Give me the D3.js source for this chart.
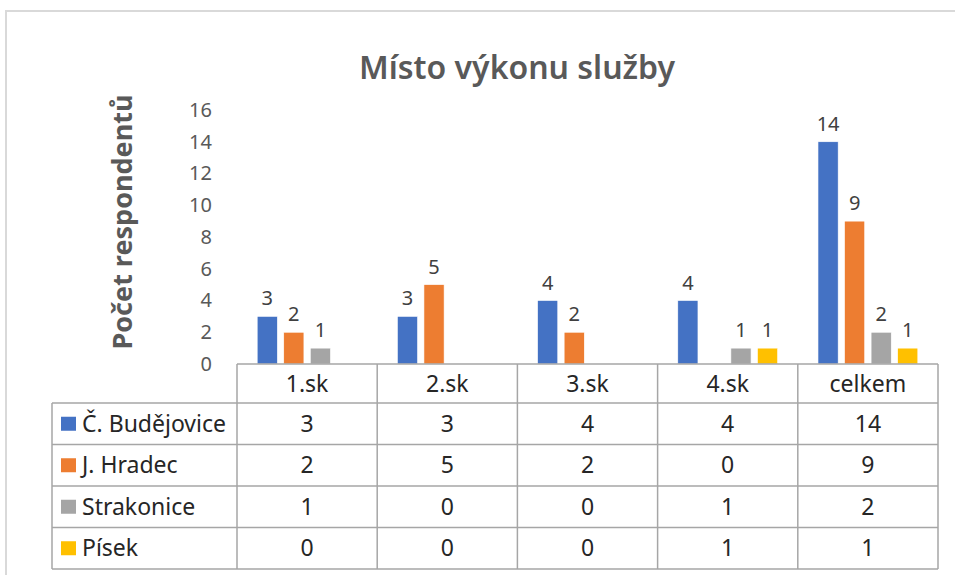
<!DOCTYPE html>
<html>
<head>
<meta charset="utf-8">
<script src="https://cdn.jsdelivr.net/npm/d3@7"></script>
<style>
  body { margin: 0; background: #fff; }
  svg text { font-family: "Noto Sans", "Open Sans", sans-serif; }
</style>
</head>
<body>
<div id="chart"></div>
<script>
// Data
const categories = ["1.sk", "2.sk", "3.sk", "4.sk", "celkem"];
const seriesNames = ["Č. Budějovice", "J. Hradec", "Strakonice", "Písek"];
const budejovice = [3, 3, 4, 4, 14];
const hradec = [2, 5, 2, 0, 9];
const strakonice = [1, 0, 0, 1, 2];
const pisek = [0, 0, 0, 1, 1];
const yTicks = [0, 2, 4, 6, 8, 10, 12, 14, 16];
const colors = ["#4472C4", "#ED7D31", "#A5A5A5", "#FFC000"];

const seriesValues = [budejovice, hradec, strakonice, pisek];
const series = seriesNames.map((name, i) => ({ name, values: seriesValues[i], color: colors[i] }));

const W = 955, H = 575;
const svg = d3.select("#chart").append("svg")
    .attr("width", W)
    .attr("height", H);

// outer chart frame
svg.append("rect")
    .attr("x", 6).attr("y", 11)
    .attr("width", W + 10).attr("height", H + 10)
    .attr("fill", "none")
    .attr("stroke", "#d9d9d9")
    .attr("stroke-width", 2);

// Scales
const x0 = d3.scaleBand().domain(categories).range([237, 938]);
const x1 = d3.scaleBand().domain(seriesNames).range([17, x0.bandwidth() - 17])
    .paddingInner(0.24).paddingOuter(0.12);
const y = d3.scaleLinear().domain([0, 16]).range([364, 110]);

// Title
svg.append("text")
    .attr("x", 517).attr("y", 79)
    .attr("text-anchor", "middle")
    .style("font-size", "32px")
    .style("font-weight", "600")
    .style("fill", "#595959")
    .text("Místo výkonu služby");

// Y axis title
svg.append("text")
    .attr("transform", "translate(132,222) rotate(-90)")
    .attr("text-anchor", "middle")
    .style("font-size", "27px")
    .style("font-weight", "bold")
    .style("fill", "#595959")
    .text("Počet respondentů");

// Y axis (labels only)
const yAxis = svg.append("g")
    .attr("transform", "translate(212,0)")
    .call(d3.axisLeft(y).tickValues(yTicks).tickSize(0).tickPadding(0));
yAxis.select(".domain").remove();
yAxis.selectAll("text")
    .style("font-size", "20px")
    .style("fill", "#595959")
    .style("font-family", "Noto Sans, sans-serif");

// Bars
const groups = svg.selectAll(".cat")
    .data(categories)
    .enter().append("g")
    .attr("class", "cat")
    .attr("transform", d => `translate(${x0(d)},0)`);

groups.each(function (cat, ci) {
    const g = d3.select(this);
    const vals = series.map(s => ({ name: s.name, color: s.color, v: s.values[ci] }));
    g.selectAll("rect")
        .data(vals.filter(d => d.v > 0))
        .enter().append("rect")
        .attr("x", d => x1(d.name))
        .attr("width", x1.bandwidth())
        .attr("y", d => y(d.v))
        .attr("height", d => y(0) - y(d.v))
        .attr("fill", d => d.color)
        .attr("stroke", "#fff")
        .attr("stroke-width", 0.6);
    g.selectAll("text.lbl")
        .data(vals.filter(d => d.v > 0))
        .enter().append("text")
        .attr("class", "lbl")
        .attr("x", d => x1(d.name) + x1.bandwidth() / 2)
        .attr("y", d => y(d.v) - 11)
        .attr("text-anchor", "middle")
        .style("font-size", "20px")
        .style("fill", "#404040")
        .text(d => d.v);
});

// Data table
const lineColor = "#a6a6a6";
const rowTop = 364, headH = 39, rowH = 41.5;
const tableLeft = 52, colLeft = 237, tableRight = 938;
const rowY = i => rowTop + headH + i * rowH;
const tbl = svg.append("g");

// horizontal lines
tbl.append("line")
    .attr("x1", colLeft).attr("x2", tableRight)
    .attr("y1", rowTop).attr("y2", rowTop)
    .attr("stroke", lineColor).attr("stroke-width", 1.5);
d3.range(series.length + 1).forEach(i => {
    tbl.append("line")
        .attr("x1", tableLeft).attr("x2", tableRight)
        .attr("y1", rowY(i)).attr("y2", rowY(i))
        .attr("stroke", lineColor).attr("stroke-width", 1.5);
});
// vertical lines
tbl.append("line")
    .attr("x1", tableLeft).attr("x2", tableLeft)
    .attr("y1", rowY(0)).attr("y2", rowY(series.length))
    .attr("stroke", lineColor).attr("stroke-width", 1.5);
categories.concat(["end"]).forEach((c, i) => {
    const xx = i < categories.length ? x0(c) : tableRight;
    tbl.append("line")
        .attr("x1", xx).attr("x2", xx)
        .attr("y1", rowTop).attr("y2", rowY(series.length))
        .attr("stroke", lineColor).attr("stroke-width", 1.5);
});

// header labels
tbl.selectAll("text.head")
    .data(categories)
    .enter().append("text")
    .attr("class", "head")
    .attr("x", d => x0(d) + x0.bandwidth() / 2)
    .attr("y", rowTop + headH / 2 + 8)
    .attr("text-anchor", "middle")
    .style("font-size", "23px")
    .style("fill", "#262626")
    .text(d => d);

// rows
series.forEach((s, i) => {
    const cy = rowY(i) + rowH / 2;
    tbl.append("rect")
        .attr("x", 61).attr("y", cy - 7)
        .attr("width", 15).attr("height", 14)
        .attr("fill", s.color);
    tbl.append("text")
        .attr("x", 82).attr("y", cy + 8)
        .style("font-size", "23px")
        .style("fill", "#262626")
        .text(s.name);
    tbl.selectAll(null)
        .data(s.values)
        .enter().append("text")
        .attr("x", (d, ci) => x0(categories[ci]) + x0.bandwidth() / 2)
        .attr("y", cy + 8)
        .attr("text-anchor", "middle")
        .style("font-size", "23px")
        .style("fill", "#262626")
        .text(d => d);
});
</script>
</body>
</html>
